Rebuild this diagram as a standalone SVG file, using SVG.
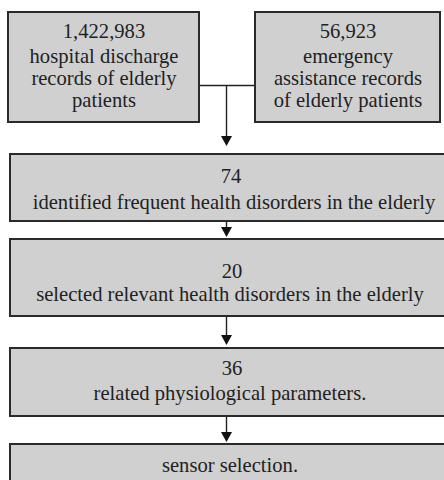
<svg xmlns="http://www.w3.org/2000/svg" width="444" height="480" viewBox="0 0 444 480">
<style>
.box{fill:#d0d0d0;stroke:#2a2a2a;stroke-width:2}
text{font-family:'Liberation Serif','DejaVu Serif',serif;font-size:20.6px;fill:#222;text-anchor:middle}
.c{stroke:#222;stroke-width:1.4;fill:none}
.h{fill:#111}
</style>
<rect width="444" height="480" fill="#fff"/>
<g id="connectors">
<line class="c" x1="200" y1="85.5" x2="254" y2="85.5"/>
<path class="c" d="M226.5,85.5 V140"/>
<path class="h" d="M221,136 L232,136 L226.5,146 Z"/>
<path class="c" d="M226.5,222 V230"/>
<path class="h" d="M221,227 L232,227 L226.5,237 Z"/>
<path class="c" d="M226.5,317 V340"/>
<path class="h" d="M221,335 L232,335 L226.5,345 Z"/>
<path class="c" d="M226.5,416 V436"/>
<path class="h" d="M221,432 L232,432 L226.5,442 Z"/>
</g>
<g id="n1">
<rect class="box" x="8" y="12" width="191" height="110"/>
<text x="104" y="38">1,422,983</text>
<text x="104" y="63">hospital discharge</text>
<text x="104" y="85">records of elderly</text>
<text x="104" y="107">patients</text>
</g>
<g id="n2">
<rect class="box" x="255" y="12" width="185" height="110"/>
<text x="348" y="38">56,923</text>
<text x="348" y="63">emergency</text>
<text x="348" y="85">assistance records</text>
<text x="348" y="107">of elderly patients</text>
</g>
<g id="n3">
<rect class="box" x="10" y="154" width="445" height="67"/>
<text x="231" y="183">74</text>
<text x="234" y="209">identified frequent health disorders in the elderly</text>
</g>
<g id="n4">
<rect class="box" x="10" y="239" width="445" height="77"/>
<text x="232" y="278">20</text>
<text x="230" y="301">selected relevant health disorders in the elderly</text>
</g>
<g id="n5">
<rect class="box" x="10" y="348" width="445" height="68"/>
<text x="232" y="375">36</text>
<text x="230" y="400">related physiological parameters.</text>
</g>
<g id="n6">
<rect class="box" x="10" y="444" width="445" height="50"/>
<text x="230" y="472">sensor selection.</text>
</g>
</svg>
